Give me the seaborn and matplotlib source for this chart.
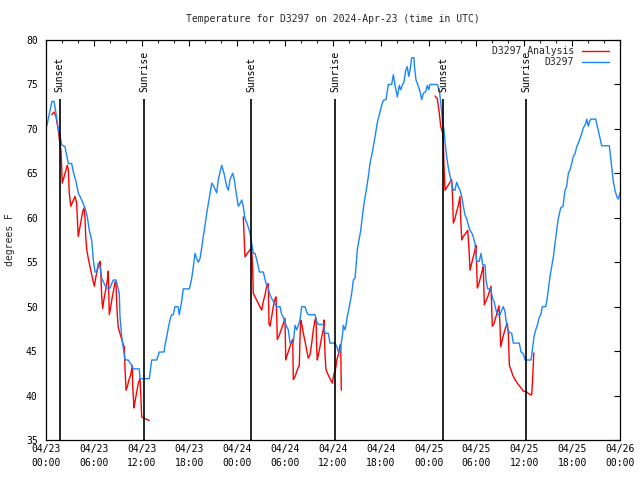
import numpy as np
import pandas as pd
import matplotlib
matplotlib.use("Agg")
import matplotlib.pyplot as plt
import matplotlib.dates as mdates
import seaborn as sns

# ---------------- data (hours after 2024-04-23 00:00 UTC, degrees F) ----------------
obs_hours = [0.09, 0.75, 1.00, 1.25, 1.54, 1.76, 1.97, 2.38, 2.80, 3.22, 3.42, 3.76, 4.05, 4.48, 4.89,
             5.18, 5.43, 5.73, 5.93, 6.15, 6.36, 6.56, 6.77, 6.99, 7.40, 7.81, 8.03, 8.44, 8.78, 8.94,
             9.19, 9.28, 9.50, 9.70, 9.91, 10.32, 10.75, 10.95, 11.70, 11.79, 12.96, 13.26, 13.89,
             14.21, 14.80, 14.93, 15.14, 15.34, 15.55, 15.77, 15.97, 16.18, 16.56, 16.72, 17.02,
             17.22, 17.98, 18.28, 18.48, 18.69, 18.90, 19.10, 19.32, 19.53, 19.73, 19.86, 20.16,
             20.36, 20.57, 20.79, 21.07, 21.41, 21.61, 22.04, 22.33, 22.67, 22.87, 23.08, 23.42,
             23.62, 23.92, 24.12, 24.34, 24.55, 24.75, 24.96, 25.21, 25.59, 25.80, 26.00, 26.22,
             26.43, 26.63, 26.76, 27.26, 27.60, 27.88, 28.10, 28.51, 28.94, 29.35, 29.57, 29.77,
             30.11, 30.39, 30.61, 31.02, 31.23, 31.45, 31.65, 31.86, 32.07, 32.49, 32.70, 32.90,
             33.74, 33.96, 34.16, 34.78, 35.00, 35.41, 35.62, 36.25, 36.47, 36.67, 36.88, 37.00,
             37.22, 37.29, 37.51, 37.63, 37.79, 38.05, 38.35, 38.55, 38.76, 38.89, 39.05, 39.30,
             39.48, 39.73, 39.89, 40.14, 40.43, 40.64, 40.98, 41.27, 41.48, 41.68, 41.90, 42.11,
             42.31, 42.65, 42.81, 42.94, 43.36, 43.57, 43.78, 44.07, 44.32, 44.49, 44.69, 44.91,
             45.12, 45.32, 45.50, 45.66, 45.87, 46.16, 46.20, 46.41, 46.63, 46.91, 47.13, 47.33,
             47.63, 47.83, 48.01, 48.17, 49.08, 49.33, 49.51, 49.74, 49.92, 50.05, 50.27, 50.47,
             50.68, 50.89, 51.09, 51.30, 51.51, 51.72, 51.93, 52.15, 52.35, 52.56, 52.77, 52.97,
             53.19, 53.52, 53.81, 54.02, 54.35, 54.57, 54.78, 55.07, 55.19, 55.41, 55.78, 56.03,
             56.20, 56.45, 56.66, 56.95, 57.16, 57.36, 57.58, 57.70, 57.87, 58.12, 58.42, 58.62,
             59.37, 59.58, 59.87, 60.09, 60.84, 61.05, 61.21, 61.43, 61.63, 61.84, 62.06, 62.26,
             62.68, 62.81, 63.01, 63.22, 63.43, 63.64, 63.85, 64.06, 64.26, 64.56, 64.85, 65.10,
             65.31, 65.52, 65.73, 65.94, 66.14, 66.36, 66.57, 66.77, 66.98, 67.20, 67.40, 67.70,
             67.82, 68.03, 68.16, 68.33, 68.95, 69.15, 69.49, 69.71, 70.66, 70.83, 71.00, 71.16,
             71.37, 71.59, 71.79, 72.00]
obs_temp = [70.3, 73.1, 73.1, 71.8, 69.9, 69.3, 68.2, 68.0, 66.1, 66.1, 65.2, 64.1, 62.8, 62.0, 61.1,
            60.1, 58.6, 57.5, 55.3, 53.9, 53.9, 54.9, 54.5, 53.2, 52.4, 52.0, 52.1, 53.0, 53.0, 52.4,
            51.5, 48.9, 46.6, 45.3, 44.0, 44.0, 43.4, 43.0, 43.0, 41.9, 41.9, 44.0, 44.0,
            44.9, 44.9, 45.7, 46.6, 47.6, 48.5, 49.1, 49.1, 50.0, 50.0, 49.1, 50.6,
            52.0, 52.0, 53.2, 54.5, 56.0, 55.4, 55.0, 55.4, 56.6, 57.9, 58.6, 60.5,
            61.6, 62.8, 63.9, 63.5, 62.8, 64.3, 65.9, 65.0, 63.5, 63.1, 64.3, 65.0,
            64.3, 62.4, 61.3, 61.6, 62.0, 61.3, 59.9, 59.4, 58.3, 57.1, 56.0, 56.0,
            55.3, 54.5, 53.9, 53.9, 52.6, 52.1, 51.3, 50.6, 50.0, 50.0, 49.1, 48.8,
            47.9, 47.4, 45.9, 45.9, 47.9, 47.4, 47.9, 48.5, 50.0, 50.0, 49.4, 49.1,
            49.1, 48.3, 48.0, 48.0, 47.0, 47.0, 45.9, 45.9, 45.5, 44.9, 44.9, 45.7,
            47.0, 47.9, 47.4, 47.9, 48.9, 50.0, 51.5, 53.0, 53.2, 54.5, 56.4, 57.7,
            58.6, 60.5, 61.6, 62.9, 64.6, 66.1, 67.6, 69.1, 70.3, 71.2, 71.9, 72.7,
            73.2, 73.3, 74.2, 75.0, 75.0, 76.1, 74.9, 73.6, 74.9, 74.4, 74.9, 75.3,
            76.6, 77.0, 75.9, 76.6, 78.0, 78.0, 77.2, 75.5, 75.0, 74.2, 73.3, 74.0,
            74.2, 74.9, 74.4, 75.0, 75.0, 74.4, 73.0, 70.8, 69.9, 68.5, 66.8, 65.6,
            64.7, 63.9, 63.1, 63.1, 64.0, 63.5, 63.1, 62.4, 61.3, 60.3, 59.9, 59.2,
            58.6, 58.1, 57.1, 55.1, 55.1, 56.0, 54.7, 54.7, 53.0, 52.0, 52.0, 50.9,
            50.6, 49.6, 49.1, 49.1, 49.6, 50.0, 49.4, 48.5, 47.6, 47.1, 47.0, 45.9,
            45.9, 44.9, 44.7, 44.0, 44.0, 45.5, 46.6, 47.4, 47.9, 48.7, 49.1, 50.0,
            50.0, 50.6, 51.9, 53.4, 54.5, 55.6, 57.1, 58.6, 59.9, 61.1, 61.3, 63.1,
            63.5, 65.0, 65.4, 66.1, 66.9, 67.2, 68.0, 68.4, 68.9, 69.5, 70.1, 70.6,
            71.1, 70.3, 70.8, 71.1, 71.1, 70.3, 68.9, 68.1, 68.1, 66.7, 65.4, 64.1,
            63.1, 62.4, 62.1, 62.8]

ana1_hours = [0.72, 1.00, 1.25, 1.54, 1.76, 1.88, 2.04, 2.26, 2.51, 2.67, 2.80, 2.92, 3.10, 3.35, 3.64,
              3.85, 3.98, 4.05, 4.18, 4.35, 4.60, 4.77, 4.89, 4.98, 5.11, 5.31, 5.52, 5.73, 5.93, 6.06,
              6.27, 6.49, 6.69, 6.81, 6.99, 7.11, 7.28, 7.53, 7.69, 7.81, 7.94, 8.12, 8.28, 8.53, 8.66,
              8.78, 8.94, 9.07, 9.28, 9.50, 9.70, 9.82, 9.91, 10.04, 10.20, 10.41, 10.62, 10.83, 10.88,
              11.04, 11.16, 11.38, 11.58, 11.79, 11.88, 12.00, 12.42, 12.96]
ana1_temp = [71.6, 71.9, 71.4, 69.9, 68.2, 67.6, 63.9, 64.6, 65.4, 65.9, 65.4, 62.8, 61.3, 61.8, 62.4,
             61.6, 59.0, 57.9, 58.6, 59.4, 60.7, 61.1, 60.1, 57.9, 56.4, 55.4, 54.5, 53.6, 52.8, 52.3,
             53.4, 54.3, 54.9, 55.1, 51.1, 49.8, 50.9, 52.1, 53.0, 54.0, 49.1, 50.0, 50.9, 52.1, 52.8,
             52.4, 49.1, 47.6, 47.0, 46.3, 45.7, 45.5, 43.1, 40.6, 41.0, 41.8, 42.3, 43.4, 41.0,
             38.6, 39.3, 40.4, 41.4, 41.9, 40.3, 37.6, 37.4, 37.2]

ana2_hours = [24.75, 24.87, 24.96, 25.25, 25.59, 25.80, 25.93, 26.00, 26.22, 26.50, 26.84, 27.06, 27.26,
              27.47, 27.68, 27.88, 27.97, 28.10, 28.31, 28.51, 28.73, 28.85, 28.94, 29.01, 29.27, 29.57,
              29.77, 29.98, 30.07, 30.27, 30.52, 30.82, 30.95, 31.02, 31.23, 31.52, 31.77, 31.86, 31.95,
              32.07, 32.28, 32.49, 32.70, 32.90, 33.12, 33.33, 33.53, 33.74, 33.87, 33.96, 34.03, 34.16,
              34.37, 34.58, 34.78, 34.87, 35.00, 35.12, 35.41, 35.62, 35.91, 36.13, 36.25, 36.38, 36.47,
              36.67, 36.88, 36.97, 37.04]
ana2_temp = [60.1, 57.5, 55.6, 56.0, 56.4, 56.6, 54.1, 51.5, 51.1, 50.6, 50.0, 49.6, 50.6,
             51.3, 52.3, 52.6, 48.1, 47.8, 48.9, 50.0, 50.9, 51.1, 48.9, 46.3, 46.8, 47.6,
             48.1, 48.7, 44.0, 44.6, 45.3, 46.1, 46.3, 41.8, 42.1, 42.9, 43.4, 46.4, 48.5,
             48.1, 47.0, 46.1, 45.1, 44.2, 44.6, 45.9, 47.4, 48.5, 48.7, 45.3, 44.0, 44.6,
             45.5, 46.6, 47.4, 48.5, 44.6, 42.9, 42.3, 41.9, 41.4, 42.5, 42.7, 43.3, 44.0,
             44.6, 45.7, 45.7, 40.6]

ana3_hours = [48.80, 49.08, 49.33, 49.51, 49.76, 49.84, 49.92, 50.05, 50.47, 50.89, 51.02, 51.09, 51.30,
              51.51, 51.72, 51.93, 52.02, 52.15, 52.35, 52.69, 52.90, 53.06, 53.19, 53.40, 53.60, 53.81,
              53.94, 54.10, 54.31, 54.53, 54.73, 54.85, 54.98, 55.16, 55.41, 55.61, 55.82, 55.98, 56.20,
              56.41, 56.61, 56.82, 56.95, 57.04, 57.24, 57.45, 57.70, 57.87, 57.99, 58.12, 58.33, 58.54,
              58.83, 59.12, 59.46, 59.87, 60.30, 60.71, 60.92, 61.00, 61.13, 61.18]
ana3_temp = [73.7, 73.4, 71.8, 70.3, 69.5, 68.6, 65.8, 63.1, 63.7, 64.3, 61.8, 59.4, 59.9,
             60.7, 61.4, 62.4, 59.9, 57.5, 57.9, 58.3, 58.6, 56.4, 54.1, 54.9, 55.6, 56.4,
             56.9, 52.1, 52.6, 53.4, 54.1, 54.5, 50.2, 50.6, 51.1, 51.7, 52.3, 47.8, 48.1,
             48.8, 49.4, 50.1, 47.8, 45.5, 46.3, 47.0, 47.8, 48.1, 47.0, 43.4, 42.9, 42.3,
             41.8, 41.4, 41.0, 40.5, 40.4, 40.1, 40.1, 41.2, 43.6, 44.8]

sun_hours = [1.70, 12.33, 25.75, 36.29, 49.84, 60.21]
sun_labels = ["Sunset", "Sunrise", "Sunset", "Sunrise", "Sunset", "Sunrise"]

series_obs = "D3297"
series_ana = "D3297 Analysis"
title = "Temperature for D3297 on 2024-Apr-23 (time in UTC)"
y_label = "degrees F"

# ---------------- build table ----------------
start = pd.Timestamp("2024-04-23 00:00")
frames = [pd.DataFrame({"hours": obs_hours, "temp": obs_temp, "series": series_obs, "night": 0})]
for i, (h, t) in enumerate([(ana1_hours, ana1_temp), (ana2_hours, ana2_temp), (ana3_hours, ana3_temp)], 1):
    frames.append(pd.DataFrame({"hours": h, "temp": t, "series": series_ana, "night": i}))
df = pd.concat(frames, ignore_index=True)
df["time"] = start + pd.to_timedelta(df["hours"], unit="h")

# ---------------- figure ----------------
sns.set_style("white")
plt.rcParams["font.family"] = ["DejaVu Sans Mono"]
plt.rcParams["font.size"] = 7

fig = plt.figure(figsize=(6.4, 4.8), dpi=100)
ax = fig.add_axes([46 / 640, 40 / 480, 574 / 640, 400 / 480])

sns.lineplot(data=df, x="time", y="temp", hue="series",
             hue_order=[series_ana, series_obs],
             palette={series_ana: "#ff0000", series_obs: "#1a85ff"},
             units="night", estimator=None, sort=False, lw=1.0, ax=ax)

sun_times = [start + pd.Timedelta(hours=h) for h in sun_hours]
ax.vlines(sun_times, 35, 73.36, color="black", lw=1.2, zorder=5)
for t, lab in zip(sun_times, sun_labels):
    ax.text(t, 74.15, lab, rotation=90, ha="center", va="bottom", fontsize=7, color="black")

ax.set_xlim(start, start + pd.Timedelta(hours=72))
ax.set_ylim(35, 80)
ax.set_yticks(np.arange(35, 81, 5))
ax.xaxis.set_major_locator(mdates.HourLocator(byhour=[0, 6, 12, 18]))
ax.xaxis.set_minor_locator(mdates.HourLocator(byhour=range(0, 24, 2)))
ax.xaxis.set_major_formatter(mdates.DateFormatter("%m/%d\n%H:%M"))
ax.tick_params(axis="both", which="major", direction="in", length=4, width=0.8,
               top=True, right=True, labelsize=7, colors="black")
ax.tick_params(axis="x", which="major", pad=3)
ax.tick_params(axis="y", which="major", pad=6)
ax.tick_params(axis="x", which="minor", direction="in", length=2.2, width=0.8, top=True)
for lbl in ax.get_xticklabels():
    lbl.set_linespacing(1.5)
for s in ax.spines.values():
    s.set_color("black")
    s.set_linewidth(0.9)
ax.set_xlabel("")
ax.set_ylabel("")

fig.text(10 / 640, 0.5, y_label, rotation=90, ha="center", va="center", fontsize=7)
fig.text(333 / 640, 1 - 19 / 480, title, ha="center", va="center", fontsize=7)

handles, labels = ax.get_legend_handles_labels()
ax.legend(handles, labels, loc="upper right", bbox_to_anchor=(0.9813, 0.985),
          frameon=False, markerfirst=False, borderpad=0, borderaxespad=0,
          handlelength=2.85, handletextpad=0.8, labelspacing=0.15, fontsize=7)

fig.savefig("out.png", dpi=100)
